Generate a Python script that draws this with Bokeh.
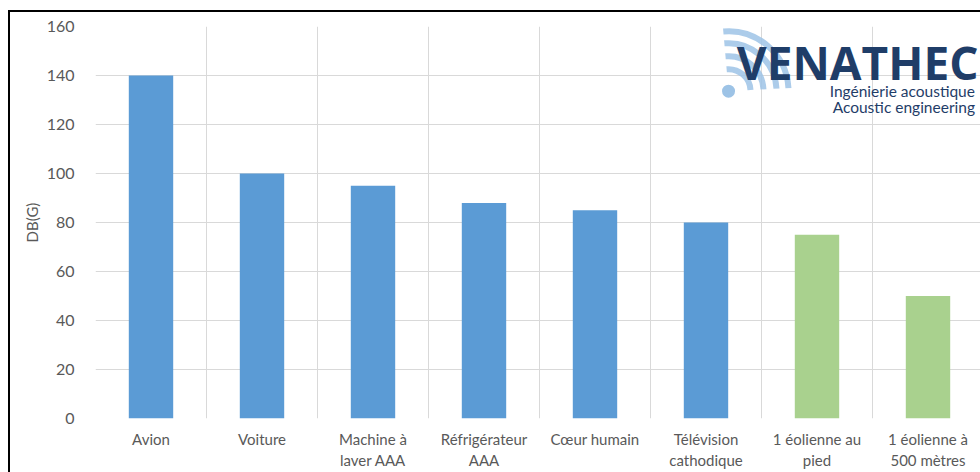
import numpy as np
from bokeh.plotting import figure
from bokeh.models import ColumnDataSource, FixedTicker, Range1d, Label
from bokeh.transform import factor_cmap
from bokeh.embed import file_html
from bokeh.resources import INLINE

categories = ["Avion", "Voiture", "Machine à\nlaver AAA", "Réfrigérateur\nAAA",
              "Cœur humain", "Télévision\ncathodique", "1 éolienne au\npied",
              "1 éolienne à\n500 mètres"]
values = [140, 100, 95, 88, 85, 80, 75, 50]
groups = ["autre", "autre", "autre", "autre", "autre", "autre", "éolienne", "éolienne"]
y_ticks = [0, 20, 40, 60, 80, 100, 120, 140, 160]

BLUE = "#5B9BD5"
GREEN = "#A9D18E"
GREY = "#595959"
NAVY = "#1F3D68"
LIGHT = "#9DC3E6"
FONT = "Lato"

pos = [i + 0.5 for i in range(len(categories))]
src = ColumnDataSource(dict(x=pos, top=values, group=groups))

p = figure(width=980, height=472, output_backend="svg", toolbar_location=None,
           x_range=Range1d(0, 7.973), y_range=Range1d(0, 160),
           min_border_left=95, min_border_top=26, min_border_bottom=54,
           min_border_right=0)
# outer picture frame: black left/top edge drawn behind a transparent border area
p.styles = {"background-color": "white",
            "box-shadow": "inset 8px 10px 0 0 white, inset 10px 12px 0 0 black"}
p.background_fill_color = "white"
p.border_fill_color = None
p.outline_line_color = None

p.vbar(x="x", top="top", width=0.40, source=src,
       fill_color=factor_cmap("group", [BLUE, GREEN], ["autre", "éolienne"]),
       line_color=None)

# grids
p.xgrid.ticker = FixedTicker(ticks=list(range(len(categories) + 1)))
p.ygrid.ticker = FixedTicker(ticks=y_ticks)
p.xgrid.grid_line_color = "#D9D9D9"
p.ygrid.grid_line_color = "#D9D9D9"

# x axis
p.xaxis.ticker = FixedTicker(ticks=pos)
p.xaxis.major_label_overrides = {x: c for x, c in zip(pos, categories)}
p.xaxis.axis_line_color = None
p.xaxis.major_tick_line_color = None
p.xaxis.minor_tick_line_color = None
p.xaxis.major_label_text_font = FONT
p.xaxis.major_label_text_font_size = "15px"
p.xaxis.major_label_text_color = GREY
p.xaxis.major_label_standoff = 5

# y axis
p.yaxis.ticker = FixedTicker(ticks=y_ticks)
p.yaxis.axis_line_color = None
p.yaxis.major_tick_line_color = None
p.yaxis.minor_tick_line_color = None
p.yaxis.major_label_text_font = FONT
p.yaxis.major_label_text_font_size = "16px"
p.yaxis.major_label_text_color = GREY
p.yaxis.major_label_standoff = 15
p.yaxis.axis_label = "DB(G)"
p.yaxis.axis_label_text_font = FONT
p.yaxis.axis_label_text_font_style = "normal"
p.yaxis.axis_label_text_font_size = "15px"
p.yaxis.axis_label_text_color = GREY
p.yaxis.axis_label_standoff = 3

# logo (decoration)
cx, cy = 5.703, 133.6
p.scatter([cx], [cy], size=13, color=LIGHT, line_color=None)
for r in [22, 35, 48, 60]:
    p.arc(x=[cx], y=[cy], radius=r, radius_units="screen",
          start_angle=np.deg2rad(3), end_angle=np.deg2rad(95), line_color=LIGHT,
          line_width=6, line_alpha=0.85)
p.add_layout(Label(x=7.955, y=145.7, text="VENATHEC", text_align="right",
                   text_baseline="middle", text_font="Open Sans",
                   text_font_style="bold", text_font_size="46px",
                   text_color=NAVY))
p.add_layout(Label(x=7.923, y=133.5, text="Ingénierie acoustique", text_align="right",
                   text_baseline="middle", text_font=FONT,
                   text_font_size="15.5px", text_color=NAVY))
p.add_layout(Label(x=7.923, y=127.0, text="Acoustic engineering", text_align="right",
                   text_baseline="middle", text_font=FONT,
                   text_font_size="15.5px", text_color=NAVY))

open("out.html", "w").write(file_html(p, INLINE))
